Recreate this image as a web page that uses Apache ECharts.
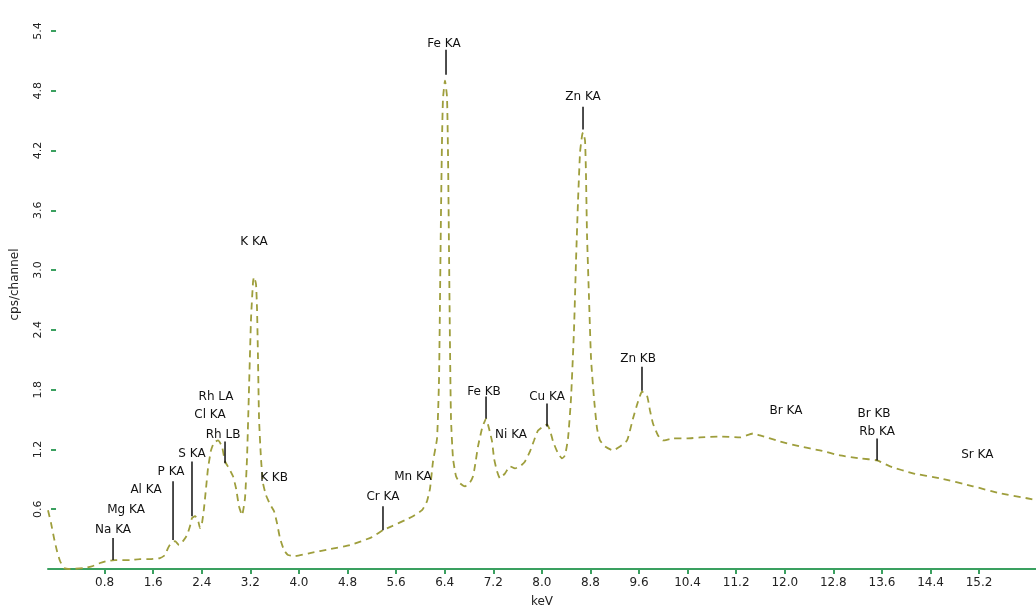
<!DOCTYPE html>
<html>
<head>
<meta charset="utf-8">
<style>
  html, body { margin: 0; padding: 0; background: #ffffff; }
  #chart { width: 1036px; height: 613px; }
</style>
<script src="https://cdn.jsdelivr.net/npm/echarts@6/dist/echarts.min.js"></script>
</head>
<body>
<div id="chart"></div>
<script>
// Spectrum (energy keV, cps/channel)
const energy = [-0.132,-0.082,-0.033,0.016,0.066,0.132,0.231,0.478,0.609,0.725,0.840,0.971,1.218,1.383,1.548,1.712,1.795,1.844,1.894,1.959,2.025,2.091,2.157,2.206,2.239,2.289,2.338,2.371,2.404,2.437,2.470,2.503,2.552,2.602,2.668,2.733,2.783,2.849,2.915,2.964,3.013,3.063,3.112,3.145,3.178,3.211,3.244,3.260,3.293,3.310,3.326,3.343,3.375,3.409,3.458,3.524,3.590,3.639,3.688,3.754,3.820,3.935,4.182,4.512,4.841,5.203,5.384,5.533,5.747,5.878,6.027,6.109,6.159,6.208,6.274,6.307,6.323,6.340,6.356,6.372,6.405,6.438,6.455,6.471,6.488,6.504,6.537,6.587,6.652,6.735,6.817,6.867,6.900,6.949,7.015,7.081,7.130,7.180,7.213,7.262,7.311,7.394,7.476,7.558,7.641,7.723,7.805,7.871,7.937,8.020,8.085,8.135,8.184,8.266,8.332,8.381,8.431,8.480,8.530,8.563,8.596,8.629,8.662,8.678,8.711,8.727,8.744,8.777,8.810,8.859,8.909,8.958,9.040,9.172,9.287,9.403,9.501,9.584,9.649,9.732,9.781,9.830,9.913,9.995,10.160,10.391,10.604,10.933,11.263,11.477,11.592,11.922,12.251,12.580,12.909,13.239,13.519,13.733,14.111,14.556,15.099,15.544,15.988,16.137];
const counts = [0.59,0.46,0.31,0.18,0.08,0.01,0.00,0.01,0.03,0.06,0.08,0.09,0.09,0.10,0.10,0.11,0.14,0.21,0.26,0.28,0.24,0.28,0.34,0.43,0.51,0.53,0.49,0.41,0.46,0.61,0.81,1.01,1.19,1.27,1.29,1.23,1.08,1.01,0.93,0.81,0.63,0.54,0.71,1.11,1.81,2.51,2.88,2.93,2.86,2.61,2.11,1.51,1.11,0.86,0.74,0.65,0.58,0.46,0.31,0.19,0.14,0.13,0.16,0.20,0.24,0.32,0.39,0.43,0.49,0.53,0.59,0.68,0.81,1.08,1.31,1.91,2.71,3.61,4.30,4.72,4.90,4.74,4.15,3.21,2.21,1.51,1.11,0.93,0.86,0.83,0.87,0.93,1.04,1.23,1.41,1.51,1.41,1.28,1.11,0.98,0.91,0.96,1.03,1.01,1.03,1.08,1.18,1.29,1.39,1.43,1.45,1.39,1.28,1.16,1.11,1.14,1.31,1.71,2.41,3.10,3.70,4.18,4.35,4.38,4.30,3.95,3.35,2.71,2.11,1.71,1.41,1.29,1.23,1.19,1.23,1.29,1.51,1.68,1.78,1.74,1.59,1.46,1.34,1.29,1.31,1.31,1.32,1.33,1.32,1.36,1.34,1.28,1.23,1.19,1.14,1.11,1.09,1.03,0.96,0.91,0.83,0.76,0.71,0.69];

// Peak labels
const peakNames  = ['Na KA','Mg KA','Al KA','P KA','S KA','Rh LA','Cl KA','Rh LB','K KA','K KB','Cr KA','Mn KA','Fe KA','Fe KB','Ni KA','Cu KA','Zn KA','Zn KB','Br KA','Br KB','Rb KA','Sr KA'];
const labelX     = [0.939,1.153,1.482,1.894,2.239,2.635,2.536,2.750,3.260,3.590,5.384,5.878,6.389,7.048,7.492,8.085,8.678,9.584,12.02,13.47,13.52,15.17];
const labelY     = [0.39,0.59,0.79,0.97,1.16,1.73,1.55,1.35,3.28,0.91,0.72,0.92,5.27,1.78,1.35,1.73,4.74,2.11,1.59,1.56,1.38,1.15];
const lineX      = [0.939,null,null,1.927,2.239,null,null,2.783,null,null,5.384,null,6.422,7.081,null,8.085,8.678,9.649,null,null,13.52,null];
const lineTop    = [0.31,null,null,0.88,1.08,null,null,1.28,null,null,0.63,null,5.21,1.73,null,1.66,4.64,2.03,null,null,1.31,null];
const lineBottom = [0.09,null,null,0.29,0.53,null,null,1.06,null,null,0.39,null,4.96,1.51,null,1.43,4.41,1.79,null,null,1.09,null];

// Axis ticks
const xTicks = [0.8,1.6,2.4,3.2,4.0,4.8,5.6,6.4,7.2,8.0,8.8,9.6,10.4,11.2,12.0,12.8,13.6,14.4,15.2];
const yTicks = [0.6,1.2,1.8,2.4,3.0,3.6,4.2,4.8,5.4];

const spectrum = energy.map((e, i) => [e, counts[i]]);
const labelData = peakNames.map((n, i) => [labelX[i], labelY[i]]);
const lineData = [];
lineX.forEach((x, i) => { if (x !== null) lineData.push([x, lineTop[i], lineBottom[i]]); });

const chart = echarts.init(document.getElementById('chart'), null, { renderer: 'canvas' });
const axisGreen = '#3aa060';
chart.setOption({
  animation: false,
  backgroundColor: '#ffffff',
  grid: { left: 48, right: 0, top: 0, bottom: 42, containLabel: false },
  xAxis: {
    type: 'value',
    min: -0.132, max: 16.137,
    name: 'keV', nameLocation: 'middle', nameGap: 27,
    nameTextStyle: { color: '#222', fontSize: 12, fontFamily: 'DejaVu Sans' },
    axisLine: { show: true, lineStyle: { color: axisGreen, width: 2 } },
    axisTick: { show: true, length: 5, lineStyle: { color: axisGreen, width: 2 }, customValues: xTicks },
    axisLabel: { color: '#222', fontSize: 12, fontFamily: 'DejaVu Sans', margin: 8, customValues: xTicks,
      formatter: v => v.toFixed(1) },
    splitLine: { show: false }
  },
  yAxis: {
    type: 'value',
    min: 0, max: 5.71,
    name: 'cps/channel', nameLocation: 'middle', nameGap: 27, nameRotate: 90,
    nameTextStyle: { color: '#222', fontSize: 12, fontFamily: 'DejaVu Sans' },
    axisLine: { show: false },
    axisTick: { show: true, length: 5, lineStyle: { color: axisGreen, width: 2 }, customValues: yTicks },
    axisLabel: { color: '#222', fontSize: 11, fontFamily: 'DejaVu Sans', rotate: 90, margin: 4, customValues: yTicks,
      formatter: v => v.toFixed(1) },
    splitLine: { show: false }
  },
  series: [
    {
      type: 'line',
      data: spectrum,
      showSymbol: false,
      smooth: 0.15,
      lineStyle: { color: '#9e9e3c', width: 1.8, type: [7, 5] },
      z: 2
    },
    {
      type: 'custom',
      data: lineData,
      renderItem: function (params, api) {
        const a = api.coord([api.value(0), api.value(1)]);
        const b = api.coord([api.value(0), api.value(2)]);
        return { type: 'line', shape: { x1: a[0], y1: a[1], x2: b[0], y2: b[1] },
                 style: { stroke: '#111', lineWidth: 1.5 } };
      },
      z: 3
    },
    {
      type: 'custom',
      data: labelData,
      renderItem: function (params, api) {
        const p = api.coord([api.value(0), api.value(1)]);
        return { type: 'text', x: p[0], y: p[1],
                 style: { text: peakNames[params.dataIndex], align: 'center', verticalAlign: 'middle',
                          font: '12px "DejaVu Sans"', fill: '#111' } };
      },
      z: 4
    }
  ]
});
</script>
</body>
</html>
